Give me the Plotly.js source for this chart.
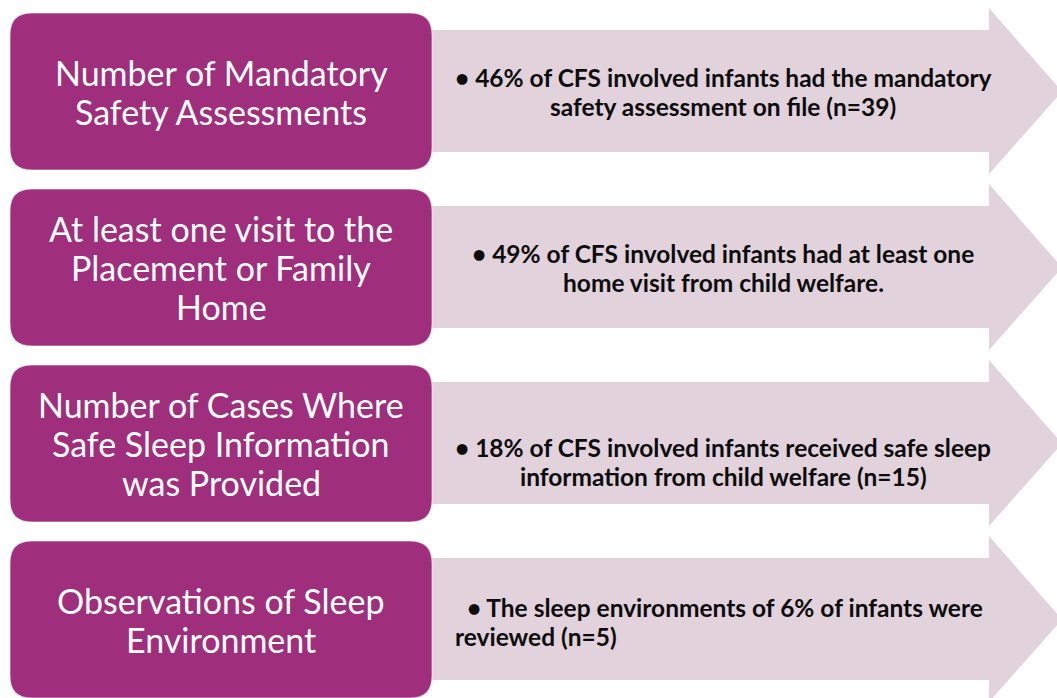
<!DOCTYPE html>
<html><head><meta charset="utf-8">
<script src="https://cdn.plot.ly/plotly-3.0.1.min.js"></script>
<style>html,body{margin:0;padding:0;background:#fff}#chart{width:1057px;height:698px}</style>
</head><body><div id="chart"></div>
<script>
// Data
const headings = [
  ["Number of Mandatory","Safety Assessments"],
  ["At least one visit to the","Placement or Family","Home"],
  ["Number of Cases Where","Safe Sleep Information","was Provided"],
  ["Observations of Sleep","Environment"]
];
const findings = [
  ["• 46% of CFS involved infants had the mandatory","safety assessment on file (n=39)"],
  ["• 49% of CFS involved infants had at least one","home visit from child welfare."],
  ["• 18% of CFS involved infants received safe sleep","information from child welfare (n=15)"],
  ["  • The sleep environments of 6% of infants were","reviewed (n=5)"]
];
const findingAlign = ["center","center","center","left"];

// Layout geometry (pixel-like data coordinates)
const W = 1057, H = 698;
const rowTop0 = 13, rowStep = 176, boxH = 157;
const boxL = 10, boxR = 432, rad = 22;
const arrowL = 420, headX = 989, tipX = 1062;
const purple = "rgb(159,46,124)", pale = "rgb(225,210,220)";
const fontFam = "Lato, 'Open Sans', sans-serif";
const headLine = 39, findLine = 29;
const findOffset = [0, 0, 18, 2];

function roundRect(x0,y0,x1,y1,r){
  return `M${x0+r},${y0} L${x1-r},${y0} Q${x1},${y0} ${x1},${y0+r} L${x1},${y1-r} Q${x1},${y1} ${x1-r},${y1} L${x0+r},${y1} Q${x0},${y1} ${x0},${y1-r} L${x0},${y0+r} Q${x0},${y0} ${x0+r},${y0} Z`;
}
const shapes = [], annotations = [];
headings.forEach((lines,i)=>{
  const t = rowTop0 + i*rowStep, b = t + boxH, c = (t+b)/2;
  shapes.push({type:"path", xref:"x", yref:"y", layer:"below",
    path:`M${arrowL},${t+17} L${headX},${t+17} L${headX},${t-5} L${tipX},${c} L${headX},${b+4} L${headX},${b-18} L${arrowL},${b-18} Z`,
    fillcolor:pale, line:{width:0}});
  shapes.push({type:"path", xref:"x", yref:"y", layer:"above",
    path:roundRect(boxL,t,boxR,b,rad), fillcolor:purple, line:{color:"rgba(255,255,255,0.6)",width:1}});
  const n = lines.length;
  lines.forEach((ln,k)=>{
    annotations.push({x:(boxL+boxR)/2, y:c + (k-(n-1)/2)*headLine, xref:"x", yref:"y", text:ln, showarrow:false,
      xanchor:"center", yanchor:"middle",
      font:{family:fontFam, size:34, color:"#ffffff"}});
  });
});
findings.forEach((lines,i)=>{
  const t = rowTop0 + i*rowStep, c = t + boxH/2 + findOffset[i];
  const left = findingAlign[i]==="left";
  const n = lines.length;
  lines.forEach((ln,k)=>{
    annotations.push({x: left ? 453 : 723, y:c + (k-(n-1)/2)*findLine, xref:"x", yref:"y",
      text:"<b>"+ln.replace(/ /g,"\u00a0")+"</b>", showarrow:false,
      xanchor: left ? "left" : "center", yanchor:"middle",
      font:{family:fontFam, size:24.5, color:"#0d0d0d"}});
  });
});

Plotly.newPlot("chart", [], {
  width:W, height:H, margin:{l:0,r:0,t:0,b:0},
  paper_bgcolor:"#ffffff", plot_bgcolor:"#ffffff",
  xaxis:{range:[0,W], visible:false, fixedrange:true},
  yaxis:{range:[H,0], visible:false, fixedrange:true},
  shapes:shapes, annotations:annotations, showlegend:false
}, {displayModeBar:false, staticPlot:true});
</script></body></html>
